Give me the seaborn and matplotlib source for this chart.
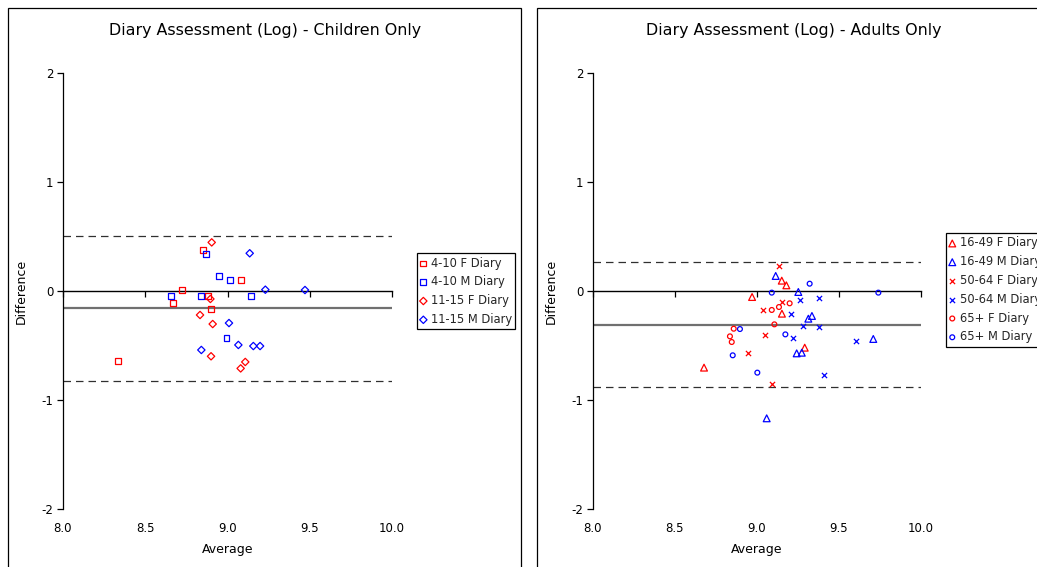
import numpy as np
import pandas as pd
import matplotlib
matplotlib.use("Agg")
import matplotlib.pyplot as plt
from matplotlib.patches import Rectangle
import seaborn as sns

# ---------------- data ----------------
# Children
c_f410_x = [8.853, 9.082, 8.721, 8.667, 8.880, 8.902, 8.336]
c_f410_y = [0.376, 0.101, 0.009, -0.107, -0.049, -0.165, -0.639]
c_m410_x = [8.867, 8.946, 9.017, 8.657, 8.841, 9.143, 8.994]
c_m410_y = [0.342, 0.135, 0.101, -0.043, -0.043, -0.049, -0.428]
c_f1115_x = [8.904, 8.896, 8.833, 8.910, 8.900, 9.108, 9.080]
c_f1115_y = [0.446, -0.073, -0.220, -0.303, -0.599, -0.651, -0.710]
c_m1115_x = [9.135, 9.230, 9.009, 9.066, 9.157, 9.198, 8.841, 9.471]
c_m1115_y = [0.346, 0.012, -0.294, -0.495, -0.505, -0.505, -0.541, 0.009]
child_lines = [0.507, -0.159, -0.826]   # upper limit, mean, lower limit

# Adults
a_f1649_x = [9.151, 9.179, 8.970, 9.152, 9.291, 8.677]
a_f1649_y = [0.095, 0.052, -0.055, -0.208, -0.520, -0.703]
a_m1649_x = [9.114, 9.252, 9.335, 9.313, 9.242, 9.273, 9.059, 9.709]
a_m1649_y = [0.138, -0.009, -0.229, -0.254, -0.572, -0.566, -1.168, -0.440]
a_f5064_x = [9.136, 9.151, 9.037, 9.051, 8.947, 9.091]
a_f5064_y = [0.229, -0.098, -0.174, -0.401, -0.569, -0.850]
a_m5064_x = [9.262, 9.378, 9.207, 9.280, 9.378, 9.220, 9.407, 9.605]
a_m5064_y = [-0.086, -0.061, -0.208, -0.324, -0.333, -0.434, -0.774, -0.459]
a_f65_x = [9.199, 9.134, 9.090, 9.106, 8.858, 8.835, 8.846]
a_f65_y = [-0.113, -0.147, -0.174, -0.306, -0.346, -0.416, -0.468]
a_m65_x = [9.321, 9.090, 8.896, 9.173, 8.852, 9.002, 9.740]
a_m65_y = [0.067, -0.015, -0.349, -0.398, -0.590, -0.749, -0.015]
adult_lines = [0.265, -0.310, -0.881]

x_ticks = [8.0, 8.5, 9.0, 9.5, 10.0]
y_ticks = [-2, -1, 0, 1, 2]

titles = ["Diary Assessment (Log) - Children Only", "Diary Assessment (Log) - Adults Only"]

RED = "#ff0000"
BLUE = "#0000ff"

child_series = [
    ("4-10 F Diary", c_f410_x, c_f410_y, RED, "s", 18),
    ("4-10 M Diary", c_m410_x, c_m410_y, BLUE, "s", 18),
    ("11-15 F Diary", c_f1115_x, c_f1115_y, RED, "D", 14),
    ("11-15 M Diary", c_m1115_x, c_m1115_y, BLUE, "D", 14),
]
adult_series = [
    ("16-49 F Diary", a_f1649_x, a_f1649_y, RED, "^", 24),
    ("16-49 M Diary", a_m1649_x, a_m1649_y, BLUE, "^", 24),
    ("50-64 F Diary", a_f5064_x, a_f5064_y, RED, "x", 14),
    ("50-64 M Diary", a_m5064_x, a_m5064_y, BLUE, "x", 14),
    ("65+ F Diary", a_f65_x, a_f65_y, RED, "o", 12),
    ("65+ M Diary", a_m65_x, a_m65_y, BLUE, "o", 12),
]

# ---------------- style ----------------
sns.set_theme(style="white")
plt.rcParams["font.family"] = ["DejaVu Sans"]
plt.rcParams["axes.unicode_minus"] = False

W, H = 1037, 567
fig = plt.figure(figsize=(W / 100, H / 100), dpi=100)

# chart-area frames
fig.add_artist(Rectangle((8 / W, -0.05), 513 / W, 1.05 - 8 / H,
                         transform=fig.transFigure, fill=False,
                         edgecolor="black", linewidth=0.9))
fig.add_artist(Rectangle((537 / W, -0.05), 0.6, 1.05 - 8 / H,
                         transform=fig.transFigure, fill=False,
                         edgecolor="black", linewidth=0.9))

ax_bottom = (H - 509) / H
ax_height = 436 / H
axes = [
    fig.add_axes([63 / W, ax_bottom, 329 / W, ax_height]),
    fig.add_axes([593 / W, ax_bottom, 328 / W, ax_height]),
]
title_x = [265 / W, 794 / W]


def draw(ax, series, lines, title, tx, leg_top):
    for label, xs, ys, col, mk, size in series:
        df = pd.DataFrame({"Average": xs, "Difference": ys})
        if mk == "x":
            sns.scatterplot(data=df, x="Average", y="Difference", ax=ax,
                            color=col, marker=mk, s=size, linewidth=0.9,
                            label=label, zorder=5)
        else:
            sns.scatterplot(data=df, x="Average", y="Difference", ax=ax,
                            color=col, marker=mk, s=size, facecolor="none",
                            edgecolor=col, linewidth=0.9, label=label, zorder=5)
    up, mean, lo = lines
    ax.axhline(up, color="#303030", linestyle=(0, (6, 4)), linewidth=0.9, zorder=2)
    ax.axhline(lo, color="#303030", linestyle=(0, (6, 4)), linewidth=0.9, zorder=2)
    ax.axhline(mean, color="#707070", linewidth=1.6, zorder=2)

    ax.set_xlim(8, 10)
    ax.set_ylim(-2, 2)
    ax.set_xticks(x_ticks)
    ax.set_xticklabels([f"{v:.1f}" for v in x_ticks])
    ax.set_yticks(y_ticks)
    ax.set_yticklabels([str(v) for v in y_ticks])
    ax.tick_params(axis="x", length=0, pad=9, labelsize=8.5, colors="black")
    ax.tick_params(axis="y", direction="out", length=4, width=0.9, pad=3,
                   labelsize=8.5, colors="black", left=True)
    for s in ["top", "right", "bottom"]:
        ax.spines[s].set_visible(False)
    ax.spines["left"].set_color("black")
    ax.spines["left"].set_linewidth(0.9)
    ax.set_facecolor("none")

    # zero line with downward tick marks
    sec = ax.secondary_xaxis(0.5)
    sec.set_alignment("bottom")
    sec.set_xticks(x_ticks)
    sec.set_xticklabels([])
    sec.tick_params(axis="x", direction="out", length=4, width=0.9,
                    labelbottom=False, labeltop=False, color="black")
    sec.spines["bottom"].set_color("black")
    sec.spines["bottom"].set_linewidth(1.0)

    ax.set_xlabel("Average", fontsize=9, labelpad=6, color="black")
    ax.set_ylabel("Difference", fontsize=9, labelpad=10, color="black")
    fig.text(tx, 1 - 30 / H, title, fontsize=11.4, color="black",
             ha="center", va="center")

    leg = ax.legend(loc="upper left", bbox_to_anchor=(1.076, leg_top),
                    fontsize=8.3, frameon=True, fancybox=False, framealpha=1,
                    edgecolor="black", handlelength=0.5, handletextpad=0.4,
                    labelspacing=0.5, borderpad=0.3, borderaxespad=0)
    leg.get_frame().set_linewidth(0.9)
    leg.set_clip_on(False)


draw(axes[0], child_series, child_lines, titles[0], title_x[0], 0.587)
draw(axes[1], adult_series, adult_lines, titles[1], title_x[1], 0.633)

fig.savefig("out.png", dpi=100)
